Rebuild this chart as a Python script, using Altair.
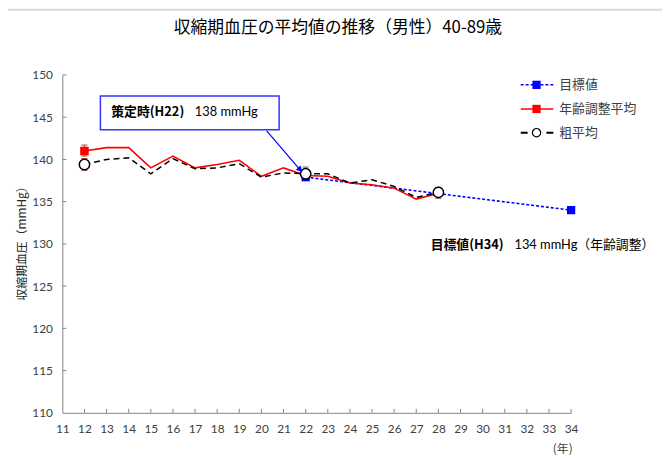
import altair as alt
import pandas as pd

# ---- data ----
years = list(range(12, 29))
adj_avg = [141.0, 141.4, 141.4, 139.0, 140.4, 139.0, 139.4, 139.9, 138.0, 139.0,
           138.1, 138.0, 137.2, 137.0, 136.6, 135.3, 136.0]
crude_avg = [139.4, 140.0, 140.2, 138.3, 140.1, 138.9, 139.0, 139.5, 137.9, 138.4,
             138.3, 138.3, 137.2, 137.6, 136.8, 135.5, 136.1]
target_years = [22, 34]
target_vals = [137.9, 134.0]
err_years = [12, 22, 28]
adj_lo = [140.4, 137.5, 135.4]
adj_hi = [141.7, 138.7, 136.5]
crude_lo = [138.7, 137.7, 135.6]
crude_hi = [140.1, 139.1, 136.7]
x_ticks = list(range(11, 35))
y_ticks = list(range(110, 151, 5))

title_text = "収縮期血圧の平均値の推移（男性）40-89歳"
y_title = "収縮期血圧（mmHg）"
x_title = "(年)"
legend_labels = ["目標値", "年齢調整平均", "粗平均"]
note1_bold, note1_rest = "策定時(H22)", "138 mmHg"
note2_bold, note2_rest = "目標値(H34)", "134 mmHg（年齢調整）"

W, H = 515, 342
FONT = "Lato, Noto Sans CJK JP"
JP = "Noto Sans CJK JP"
AX = "#868686"
TXT = "#404040"

adj_df = pd.DataFrame({"year": years, "v": adj_avg})
crude_df = pd.DataFrame({"year": years, "v": crude_avg})
tgt_df = pd.DataFrame({"year": target_years, "v": target_vals})
err_df = pd.DataFrame({"year": err_years, "alo": adj_lo, "ahi": adj_hi,
                       "clo": crude_lo, "chi": crude_hi})
circ_df = crude_df[crude_df["year"].isin(err_years)]
sq_df = adj_df[adj_df["year"] == 12]

xs = alt.Scale(domain=[11, 34], nice=False, zero=False)
ys = alt.Scale(domain=[110, 150], nice=False, zero=False)

x_axis = alt.Axis(values=x_ticks, grid=False, ticks=False, domainColor=AX,
                  labelFont=FONT, labelFontSize=12, labelColor=TXT, labelPadding=11,
                  labelFlush=False, title=x_title, titleX=506, titleY=36,
                  titleFont=JP, titleFontSize=12, titleFontWeight="normal",
                  titleColor=TXT, titleAlign="center", titleBaseline="middle")
y_axis = alt.Axis(values=y_ticks, grid=False, ticks=False, domainColor=AX,
                  labelFont=FONT, labelFontSize=12, labelColor=TXT, labelPadding=10,
                  title=y_title, titleX=-41, titleY=167, titleAngle=270,
                  titleFont=JP, titleFontSize=12, titleFontWeight="normal",
                  titleColor="#262626", titleAlign="center", titleBaseline="middle")

X = lambda f="year": alt.X(f"{f}:Q", scale=xs, axis=x_axis)
Y = lambda f="v": alt.Y(f"{f}:Q", scale=ys, axis=y_axis)

xt = alt.Chart(pd.DataFrame({"year": x_ticks[1:]})).mark_rule(color=AX).encode(
    x=X(), y=alt.value(H), y2=alt.value(H - 4))
yt = alt.Chart(pd.DataFrame({"v": y_ticks[1:]})).mark_rule(color=AX).encode(
    y=Y(), x=alt.value(0), x2=alt.value(4))

tgt_line = alt.Chart(tgt_df).mark_line(color="#0000ff", strokeWidth=1.6,
                                       strokeDash=[3, 2]).encode(x=X(), y=Y())
adj_line = alt.Chart(adj_df).mark_line(color="#ff0000", strokeWidth=1.6).encode(x=X(), y=Y())
crude_line = alt.Chart(crude_df).mark_line(color="#000000", strokeWidth=1.5,
                                           strokeDash=[6, 4]).encode(x=X(), y=Y())

ERR = "#a04848"
e1 = alt.Chart(err_df).mark_rule(color=ERR, strokeWidth=1).encode(
    x=X(), y=Y("alo"), y2="ahi:Q")
e2 = alt.Chart(err_df).mark_rule(color=ERR, strokeWidth=1).encode(
    x=X(), y=Y("clo"), y2="chi:Q")
caps = []
for f in ["alo", "ahi", "clo", "chi"]:
    caps.append(alt.Chart(err_df).mark_rule(color=ERR, strokeWidth=1, xOffset=-3,
                                            x2Offset=3).encode(x=X(), x2="year:Q", y=Y(f)))

red_sq = alt.Chart(sq_df).mark_point(shape="square", filled=True, size=75,
                                     color="#ff0000", opacity=1).encode(x=X(), y=Y())
blue_sq = alt.Chart(tgt_df).mark_point(shape="square", filled=True, size=70,
                                       color="#0000ff", opacity=1).encode(x=X(), y=Y())
circles = alt.Chart(circ_df).mark_point(shape="circle", filled=True, size=110,
                                        fill="white", stroke="black", strokeWidth=1.5,
                                        opacity=1).encode(x=X(), y=Y())

# annotation box + arrow (data coordinates)
box_df = pd.DataFrame({"x": [12.72], "x2": [20.80], "y": [143.52], "y2": [147.5]})
box = alt.Chart(box_df).mark_rect(fill="white", stroke="#3333ff", strokeWidth=1.5).encode(
    x=X("x"), x2="x2:Q", y=Y("y"), y2="y2:Q")
n1 = alt.Chart(pd.DataFrame({"x": [13.21], "y": [145.63], "t": [note1_bold]})).mark_text(
    font=JP, fontSize=13, fontWeight="bold", align="left", baseline="middle",
    color="black").encode(x=X("x"), y=Y("y"), text="t:N")
n1b = alt.Chart(pd.DataFrame({"x": [16.99], "y": [145.63], "t": [note1_rest]})).mark_text(
    font=FONT, fontSize=13, align="left", baseline="middle",
    color="black").encode(x=X("x"), y=Y("y"), text="t:N")
arr_df = pd.DataFrame({"x": [20.24], "x2": [21.72], "y": [143.37], "y2": [138.86]})
arrow = alt.Chart(arr_df).mark_rule(color="#0000ff", strokeWidth=1.2).encode(
    x=X("x"), x2="x2:Q", y=Y("y"), y2="y2:Q")
head = alt.Chart(pd.DataFrame({"x": [21.72], "y": [138.86]})).mark_point(
    shape="triangle", filled=True, size=45, color="#0000ff", opacity=1,
    angle=138).encode(x=X("x"), y=Y("y"))

n2 = alt.Chart(pd.DataFrame({"x": [27.65], "y": [129.92], "t": [note2_bold]})).mark_text(
    font=JP, fontSize=13, fontWeight="bold", align="left", baseline="middle",
    color="black").encode(x=X("x"), y=Y("y"), text="t:N")
n2b = alt.Chart(pd.DataFrame({"x": [31.44], "y": [129.92], "t": [note2_rest]})).mark_text(
    font=FONT, fontSize=13, align="left", baseline="middle",
    color="black").encode(x=X("x"), y=Y("y"), text="t:N")

# title
title = alt.Chart(pd.DataFrame({"t": [title_text]})).mark_text(
    font=JP, fontSize=17, align="center", baseline="middle", color="black").encode(
    x=alt.value(279), y=alt.value(-47), text="t:N")

# legend (pixel positions)
LY = [10, 34.4, 58.4]
one = pd.DataFrame({"a": [0]})
lg = []
lg.append(alt.Chart(one).mark_rule(color="#0000ff", strokeWidth=1.5,
          strokeDash=[3, 2]).encode(x=alt.value(464), x2=alt.value(497), y=alt.value(LY[0])))
lg.append(alt.Chart(one).mark_point(shape="square", filled=True, size=70,
          color="#0000ff", opacity=1).encode(x=alt.value(480), y=alt.value(LY[0])))
lg.append(alt.Chart(one).mark_rule(color="#ff0000", strokeWidth=1.6).encode(
    x=alt.value(464), x2=alt.value(497), y=alt.value(LY[1])))
lg.append(alt.Chart(one).mark_point(shape="square", filled=True, size=70,
          color="#ff0000", opacity=1).encode(x=alt.value(480), y=alt.value(LY[1])))
lg.append(alt.Chart(one).mark_rule(color="#000000", strokeWidth=2,
          strokeDash=[7, 19]).encode(x=alt.value(464), x2=alt.value(498), y=alt.value(LY[2])))
lg.append(alt.Chart(one).mark_point(shape="circle", filled=True, size=70,
          fill="white", stroke="black", strokeWidth=1.2, opacity=1).encode(
    x=alt.value(480), y=alt.value(LY[2])))
for lab, yy in zip(legend_labels, LY):
    lg.append(alt.Chart(pd.DataFrame({"t": [lab]})).mark_text(
        font=JP, fontSize=13, align="left", baseline="middle", color=TXT).encode(
        x=alt.value(503), y=alt.value(yy), text="t:N"))

# light grey outer frame (top and left)
fr1 = alt.Chart(one).mark_rule(color="#d9d9d9", strokeWidth=2).encode(
    x=alt.value(-60), y=alt.value(-66), y2=alt.value(395))
fr2 = alt.Chart(one).mark_rule(color="#d9d9d9", strokeWidth=2).encode(
    x=alt.value(-60), x2=alt.value(610), y=alt.value(-66))

chart = alt.layer(
    xt, yt, tgt_line, adj_line, crude_line, e1, e2, *caps,
    red_sq, blue_sq, circles, box, n1, n1b, arrow, head, n2, n2b, title, *lg, fr1, fr2
).properties(
    width=W, height=H, autosize="none",
    padding={"left": 55, "top": 65, "right": 92, "bottom": 49},
    background="white"
).configure_view(stroke=None)

chart.save("out.html", embed_options={"renderer": "svg", "actions": False})
